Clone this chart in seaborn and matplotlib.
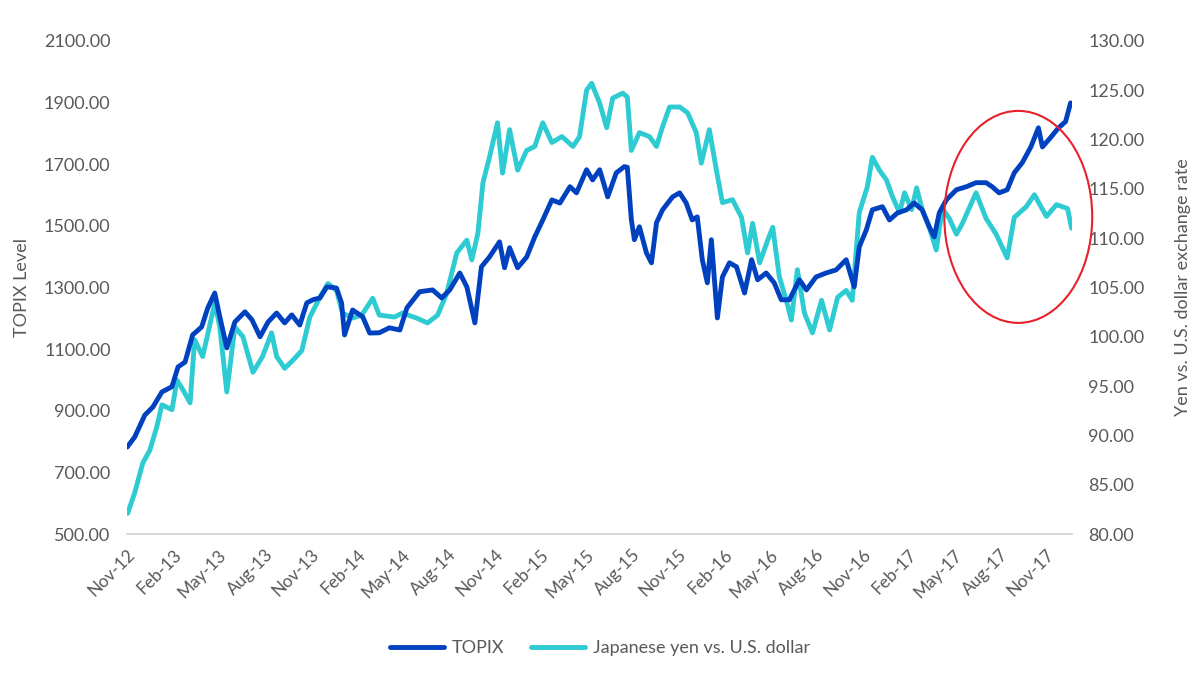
import pandas as pd
import matplotlib
matplotlib.use('Agg')
import matplotlib.pyplot as plt
import matplotlib.dates as mdates
from matplotlib.patches import Ellipse
from matplotlib.lines import Line2D
import seaborn as sns

# values
topix_dates = [
    '2012-11-01', '2012-11-16', '2012-12-06', '2012-12-22', '2013-01-09', '2013-01-29',
    '2013-02-10', '2013-02-24', '2013-03-11', '2013-03-29', '2013-04-10', '2013-04-24',
    '2013-05-04', '2013-05-18', '2013-06-03', '2013-06-23', '2013-07-07', '2013-07-23',
    '2013-08-08', '2013-08-25', '2013-09-10', '2013-09-24', '2013-10-10', '2013-10-24',
    '2013-11-05', '2013-11-19', '2013-12-03', '2013-12-22', '2014-01-01', '2014-01-07',
    '2014-01-23', '2014-02-12', '2014-02-26', '2014-03-17', '2014-04-06', '2014-04-27',
    '2014-05-11', '2014-06-05', '2014-07-01', '2014-07-19', '2014-08-04', '2014-08-24',
    '2014-09-07', '2014-09-23', '2014-10-06', '2014-10-22', '2014-11-11', '2014-11-21',
    '2014-12-01', '2014-12-17', '2015-01-04', '2015-01-20', '2015-02-05', '2015-02-23',
    '2015-03-11', '2015-03-31', '2015-04-13', '2015-05-03', '2015-05-15', '2015-05-29',
    '2015-06-14', '2015-07-01', '2015-07-17', '2015-07-23', '2015-07-31', '2015-08-06',
    '2015-08-16', '2015-08-30', '2015-09-09', '2015-09-19', '2015-10-01', '2015-10-21',
    '2015-11-04', '2015-11-17', '2015-11-29', '2015-12-09', '2015-12-19', '2015-12-29',
    '2016-01-06', '2016-01-18', '2016-01-28', '2016-02-11', '2016-02-25', '2016-03-12',
    '2016-03-26', '2016-04-07', '2016-04-24', '2016-05-10', '2016-05-24', '2016-06-09',
    '2016-06-29', '2016-07-13', '2016-08-01', '2016-08-21', '2016-09-10', '2016-09-30',
    '2016-10-16', '2016-10-26', '2016-11-09', '2016-11-21', '2016-12-11', '2016-12-25',
    '2017-01-10', '2017-01-28', '2017-02-12', '2017-02-28', '2017-03-14', '2017-03-24',
    '2017-04-03', '2017-04-17', '2017-05-07', '2017-05-27', '2017-06-15', '2017-07-05',
    '2017-07-17', '2017-07-31', '2017-08-16', '2017-08-30', '2017-09-15', '2017-10-02',
    '2017-10-17', '2017-10-25', '2017-11-10', '2017-11-26', '2017-12-10', '2017-12-20',
]
topix_values = [
    782, 815, 886, 912, 961, 978,
    1042, 1058, 1146, 1172, 1233, 1282,
    1205, 1104, 1188, 1221, 1195, 1140,
    1188, 1217, 1185, 1211, 1178, 1250,
    1260, 1266, 1302, 1298, 1250, 1146,
    1227, 1205, 1152, 1153, 1169, 1162,
    1234, 1286, 1292, 1266, 1292, 1347,
    1302, 1185, 1367, 1399, 1448, 1364,
    1429, 1364, 1399, 1464, 1519, 1584,
    1574, 1627, 1607, 1682, 1649, 1682,
    1594, 1672, 1692, 1690, 1520, 1455,
    1497, 1412, 1380, 1510, 1552, 1594,
    1607, 1574, 1519, 1529, 1390, 1315,
    1455, 1201, 1334, 1380, 1367, 1282,
    1390, 1325, 1347, 1315, 1260, 1260,
    1325, 1292, 1334, 1347, 1357, 1390,
    1302, 1432, 1487, 1552, 1562, 1519,
    1542, 1552, 1574, 1552, 1497, 1464,
    1542, 1584, 1617, 1627, 1640, 1640,
    1627, 1607, 1617, 1672, 1705, 1756,
    1818, 1756, 1786, 1818, 1838, 1899,
]

yen_dates = [
    '2012-11-02', '2012-11-16', '2012-12-02', '2012-12-16', '2012-12-30', '2013-01-09',
    '2013-01-29', '2013-02-08', '2013-02-20', '2013-03-06', '2013-03-15', '2013-03-31',
    '2013-04-24', '2013-05-04', '2013-05-18', '2013-06-03', '2013-06-19', '2013-07-09',
    '2013-07-28', '2013-08-15', '2013-08-25', '2013-09-10', '2013-09-26', '2013-10-14',
    '2013-10-30', '2013-11-19', '2013-12-05', '2013-12-22', '2014-01-03', '2014-01-23',
    '2014-02-10', '2014-03-04', '2014-03-17', '2014-04-16', '2014-05-02', '2014-05-30',
    '2014-06-21', '2014-07-11', '2014-07-29', '2014-08-18', '2014-09-07', '2014-09-17',
    '2014-09-29', '2014-10-09', '2014-10-22', '2014-11-07', '2014-11-17', '2014-12-01',
    '2014-12-17', '2015-01-04', '2015-01-20', '2015-02-05', '2015-02-23', '2015-03-15',
    '2015-04-06', '2015-04-19', '2015-05-03', '2015-05-13', '2015-05-29', '2015-06-12',
    '2015-06-24', '2015-07-14', '2015-07-23', '2015-07-31', '2015-08-16', '2015-09-05',
    '2015-09-19', '2015-10-01', '2015-10-15', '2015-11-04', '2015-11-20', '2015-12-07',
    '2015-12-17', '2016-01-02', '2016-01-16', '2016-01-28', '2016-02-17', '2016-03-06',
    '2016-03-18', '2016-03-28', '2016-04-11', '2016-04-27', '2016-05-07', '2016-05-20',
    '2016-06-03', '2016-06-13', '2016-06-25', '2016-07-09', '2016-07-25', '2016-08-12',
    '2016-08-28', '2016-09-13', '2016-09-30', '2016-10-12', '2016-10-26', '2016-11-11',
    '2016-11-21', '2016-12-05', '2016-12-19', '2016-12-31', '2017-01-14', '2017-01-24',
    '2017-02-07', '2017-02-17', '2017-02-28', '2017-03-14', '2017-03-28', '2017-04-09',
    '2017-04-23', '2017-05-07', '2017-05-19', '2017-06-15', '2017-07-05', '2017-07-25',
    '2017-08-16', '2017-08-30', '2017-09-23', '2017-10-09', '2017-11-02', '2017-11-22',
    '2017-12-14', '2017-12-22',
]
yen_values = [
    82.1, 84.2, 87.2, 88.5, 90.9, 93.1,
    92.6, 95.6, 94.6, 93.3, 99.7, 98.0,
    103.4, 101.0, 94.4, 101.0, 100.0, 96.4,
    98.0, 100.4, 98.0, 96.8, 97.6, 98.6,
    102.0, 104.0, 105.4, 104.7, 102.4, 101.9,
    102.2, 103.9, 102.2, 102.0, 102.4, 101.9,
    101.4, 102.2, 104.4, 108.5, 109.8, 107.8,
    110.5, 115.6, 118.2, 121.7, 116.6, 121.0,
    116.9, 118.9, 119.3, 121.7, 119.7, 120.3,
    119.3, 120.3, 125.0, 125.7, 123.7, 121.2,
    124.2, 124.7, 124.3, 118.9, 120.7, 120.3,
    119.3, 121.3, 123.3, 123.3, 122.7, 120.7,
    117.6, 121.0, 116.9, 113.6, 113.9, 112.1,
    108.5, 111.5, 107.5, 109.8, 111.1, 106.1,
    103.7, 101.7, 106.8, 102.4, 100.4, 103.7,
    100.7, 104.0, 104.7, 103.7, 112.6, 115.2,
    118.2, 116.9, 115.9, 114.2, 112.6, 114.6,
    112.9, 115.1, 112.9, 111.1, 108.8, 113.0,
    112.0, 110.4, 111.5, 114.6, 112.0, 110.4,
    108.0, 112.1, 113.2, 114.4, 112.2, 113.4,
    113.0, 111.0,
]

topix_df = pd.DataFrame({'date': pd.to_datetime(topix_dates), 'value': topix_values})
yen_df = pd.DataFrame({'date': pd.to_datetime(yen_dates), 'value': yen_values})

sns.set_style('white')
plt.rcParams['font.family'] = ['Lato', 'DejaVu Sans']

text_grey = '#595959'
topix_color = '#0041BF'
yen_color = '#2ECBD2'

fig = plt.figure(figsize=(12, 6.82), dpi=100)
ax = fig.add_axes([0.106, 0.217, 0.787, 0.723])
ax2 = ax.twinx()

sns.lineplot(data=topix_df, x='date', y='value', ax=ax, color=topix_color, linewidth=3.5, zorder=3)
sns.lineplot(data=yen_df, x='date', y='value', ax=ax2, color=yen_color, linewidth=3.5, zorder=2)
ax.set_zorder(ax2.get_zorder() + 1)
ax.patch.set_visible(False)

ax.set_xlim(pd.Timestamp('2012-11-01'), pd.Timestamp('2017-12-22'))
ax.set_ylim(500, 2100)
ax.set_yticks(range(500, 2101, 200))
ax.set_yticklabels([f'{v:.2f}' for v in range(500, 2101, 200)])
ax2.set_ylim(80, 130)
ax2.set_yticks(range(80, 131, 5))
ax2.set_yticklabels([f'{v:.2f}' for v in range(80, 131, 5)])

ax.xaxis.set_major_locator(mdates.MonthLocator(bymonth=[2, 5, 8, 11]))
ax.xaxis.set_major_formatter(mdates.DateFormatter('%b-%y'))
for lab in ax.get_xticklabels():
    lab.set_rotation(45)
    lab.set_ha('right')
    lab.set_rotation_mode('anchor')

ax.tick_params(axis='x', colors=text_grey, labelsize=12.5, length=5, width=1, color='#D9D9D9', pad=4)
ax.tick_params(axis='y', colors=text_grey, labelsize=13, length=0, pad=12)
ax2.tick_params(axis='y', colors=text_grey, labelsize=13, length=0, pad=12)

ax.set_xlabel('')
ax.set_ylabel('TOPIX Level', color=text_grey, fontsize=13, labelpad=10)
ax2.set_xlabel('')
ax2.set_ylabel('Yen vs. U.S. dollar exchange rate', color=text_grey, fontsize=13, labelpad=22)

for a in (ax, ax2):
    for side in ('left', 'right', 'top'):
        a.spines[side].set_visible(False)
    a.spines['bottom'].set_color('#D9D9D9')
    a.spines['bottom'].set_linewidth(1.2)

# red circle around the 2017 divergence
ell = Ellipse((mdates.date2num(pd.Timestamp('2017-09-07')), 1529), width=294, height=688,
              fill=False, edgecolor='#E8202A', linewidth=1.5, zorder=5, clip_on=False)
ax.add_patch(ell)

handles = [Line2D([0], [0], color=topix_color, linewidth=3.5),
           Line2D([0], [0], color=yen_color, linewidth=3.5)]
leg = fig.legend(handles, ['TOPIX', 'Japanese yen vs. U.S. dollar'], loc='center',
                 bbox_to_anchor=(0.5, 0.05), ncol=2, frameon=False, fontsize=13,
                 handlelength=3, columnspacing=1.5, handletextpad=0.4)
for t in leg.get_texts():
    t.set_color(text_grey)

fig.savefig('out.png', dpi=100)
